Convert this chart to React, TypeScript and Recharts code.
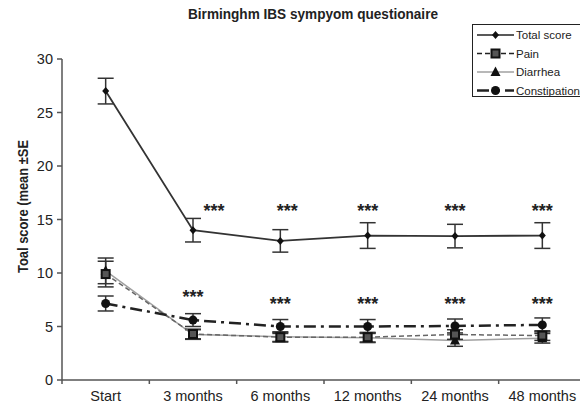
import React from 'react';
import { ComposedChart, Line, XAxis, YAxis, ErrorBar } from 'recharts';

// ---------- data ----------
const categories = ['Start', '3 months', '6 months', '12 months', '24 months', '48 months'];
const totalScore = [27.0, 14.0, 13.0, 13.5, 13.45, 13.5];
const totalSE = [1.2, 1.1, 1.05, 1.2, 1.1, 1.2];
const pain = [9.9, 4.3, 4.0, 4.0, 4.25, 4.15];
const painSE = [1.2, 0.45, 0.45, 0.45, 0.45, 0.45];
const diarrhea = [10.2, 4.25, 4.05, 3.95, 3.7, 3.9];
const diarrheaSE = [1.2, 0.45, 0.45, 0.45, 0.55, 0.45];
const constipation = [7.15, 5.6, 5.0, 5.0, 5.05, 5.15];
const constipationSE = [0.7, 0.6, 0.65, 0.65, 0.65, 0.65];
const starsUpper = [null, 16.2, 16.2, 16.2, 16.2, 16.2];
const starsLower = [null, 8.2, 7.5, 7.5, 7.5, 7.5];
const yTicks = [0, 5, 10, 15, 20, 25, 30];

const TITLE = 'Birminghm IBS sympyom questionaire';
const Y_LABEL = 'Toal score (mean \u00B1SE';

const data = categories.map((c, i) => ({
  cat: c,
  total: totalScore[i],
  totalSE: totalSE[i],
  pain: pain[i],
  painSE: painSE[i],
  diarrhea: diarrhea[i],
  diarrheaSE: diarrheaSE[i],
  constipation: constipation[i],
  constipationSE: constipationSE[i],
  starsUpper: starsUpper[i],
  starsLower: starsLower[i],
}));

// ---------- layout ----------
const CHART_W = 592;
const CHART_H = 407;
const MARGIN = { top: 59, right: 6, bottom: 1, left: 0 };
const Y_AXIS_W = 62;
const X_AXIS_H = 26;
const PLOT_BOTTOM = CHART_H - MARGIN.bottom - X_AXIS_H;
const PLOT_W = CHART_W - MARGIN.left - MARGIN.right - Y_AXIS_W;
const BAND = PLOT_W / categories.length;
const STAR_DX_UPPER = [0, 21, 7, 0, 0, 0];
const FONT = '"Liberation Sans", Arial, Helvetica, sans-serif';
const AXIS_COLOR = '#555';

type MarkerKind = 'diamond' | 'square' | 'triangle' | 'circle';

const drawMarker = (kind: MarkerKind, cx: number, cy: number, key?: any) => {
  if (cx == null || cy == null || isNaN(cx) || isNaN(cy)) return <g key={key} />;
  switch (kind) {
    case 'diamond':
      return (
        <polygon key={key} points={`${cx},${cy - 4} ${cx + 3.5},${cy} ${cx},${cy + 4} ${cx - 3.5},${cy}`} fill="#111" />
      );
    case 'square':
      return <rect key={key} x={cx - 4} y={cy - 4} width={8} height={8} fill="#555" stroke="#111" strokeWidth={2} />;
    case 'triangle':
      return <polygon key={key} points={`${cx},${cy - 5.5} ${cx + 5},${cy + 4} ${cx - 5},${cy + 4}`} fill="#111" />;
    case 'circle':
    default:
      return <circle key={key} cx={cx} cy={cy} r={4.5} fill="#111" />;
  }
};

const SERIES: { key: string; se: string; name: string; stroke: string; width: number; dash?: string; marker: MarkerKind }[] = [
  { key: 'diarrhea', se: 'diarrheaSE', name: 'Diarrhea', stroke: '#a0a0a0', width: 1.5, marker: 'triangle' },
  { key: 'pain', se: 'painSE', name: 'Pain', stroke: '#666', width: 1.5, dash: '5 3', marker: 'square' },
  { key: 'constipation', se: 'constipationSE', name: 'Constipation', stroke: '#222', width: 2.5, dash: '12 5 3 5', marker: 'circle' },
  { key: 'total', se: 'totalSE', name: 'Total score', stroke: '#333', width: 1.8, marker: 'diamond' },
];
const LEGEND_ORDER = ['total', 'pain', 'diarrhea', 'constipation'];

const XTick = (props: any) => {
  const { x, payload } = props;
  return (
    <g>
      <line x1={x - BAND / 2} x2={x - BAND / 2} y1={PLOT_BOTTOM} y2={PLOT_BOTTOM + 4} stroke={AXIS_COLOR} strokeWidth={1.5} />
      <text x={x} y={PLOT_BOTTOM + 21} textAnchor="middle" fontSize={14.5} fill="#222">
        {payload.value}
      </text>
    </g>
  );
};

const starDot = (dxArr: number[] | null) => (p: any) => {
  const { cx, cy, index, value } = p;
  if (value == null || cy == null || isNaN(cy)) return <g key={`s-${index}`} />;
  const dx = dxArr ? dxArr[index] : 0;
  return (
    <text key={`s-${index}`} x={cx + dx} y={cy + 10.5} textAnchor="middle" fontSize={18} fontWeight="bold" fill="#222">
      ***
    </text>
  );
};

export default function App() {
  const legendRows = LEGEND_ORDER.map((k) => SERIES.find((s) => s.key === k)!);
  return (
    <div
      style={{
        position: 'absolute',
        left: 0,
        top: 0,
        width: 580,
        height: 407,
        overflow: 'hidden',
        background: '#fff',
        fontFamily: FONT,
      }}
    >
      <ComposedChart width={CHART_W} height={CHART_H} data={data} margin={MARGIN}>
        <XAxis
          dataKey="cat"
          scale="band"
          height={X_AXIS_H}
          tickLine={false}
          axisLine={{ stroke: AXIS_COLOR, strokeWidth: 1.5 }}
          tick={<XTick />}
          interval={0}
        />
        <YAxis
          width={Y_AXIS_W}
          domain={[0, 30]}
          ticks={yTicks}
          tickSize={5}
          tickMargin={4}
          tickLine={{ stroke: AXIS_COLOR, strokeWidth: 1.5 }}
          axisLine={{ stroke: AXIS_COLOR, strokeWidth: 1.5 }}
          tick={{ fontSize: 14.5, fill: '#222' }}
          interval={0}
        />
        {SERIES.map((s) => (
          <Line
            key={s.key}
            dataKey={s.key}
            name={s.name}
            stroke={s.stroke}
            strokeWidth={s.width}
            strokeDasharray={s.dash}
            isAnimationActive={false}
            activeDot={false}
            dot={(p: any) => drawMarker(s.marker, p.cx, p.cy, `${s.key}-${p.index}`)}
          >
            <ErrorBar dataKey={s.se} width={8} stroke="#333" strokeWidth={1.5} direction="y" />
          </Line>
        ))}
        <Line dataKey="starsUpper" stroke="none" isAnimationActive={false} activeDot={false} dot={starDot(STAR_DX_UPPER)} />
        <Line dataKey="starsLower" stroke="none" isAnimationActive={false} activeDot={false} dot={starDot(null)} />
      </ComposedChart>
      <svg
        width={580}
        height={407}
        style={{ position: 'absolute', left: 0, top: 0, pointerEvents: 'none', fontFamily: FONT }}
      >
        <text
          x={188}
          y={18.5}
          fontSize={15}
          fontWeight="bold"
          fill="#222"
          textLength={250}
          lengthAdjust="spacingAndGlyphs"
        >
          {TITLE}
        </text>
        <text
          x={0}
          y={0}
          transform="translate(28, 273) rotate(-90)"
          fontSize={14.5}
          fontWeight="bold"
          fill="#222"
          textLength={133}
          lengthAdjust="spacingAndGlyphs"
        >
          {Y_LABEL}
        </text>
        <rect x={472.5} y={24.5} width={130} height={72} fill="#fff" stroke="#222" strokeWidth={1} />
        {legendRows.map((s, i) => {
          const y = 35 + i * 18.5;
          return (
            <g key={s.key}>
              <line
                x1={477}
                x2={514}
                y1={y}
                y2={y}
                stroke={s.key === 'diarrhea' ? '#a0a0a0' : '#222'}
                strokeWidth={s.key === 'constipation' ? 2.5 : 1.5}
                strokeDasharray={s.key === 'pain' ? '5 3' : s.key === 'constipation' ? '12 5 6 5' : undefined}
              />
              {drawMarker(s.marker, 495.5, y)}
              <text x={516} y={y + 4} fontSize={11.5} fill="#222">
                {s.name}
              </text>
            </g>
          );
        })}
      </svg>
    </div>
  );
}
